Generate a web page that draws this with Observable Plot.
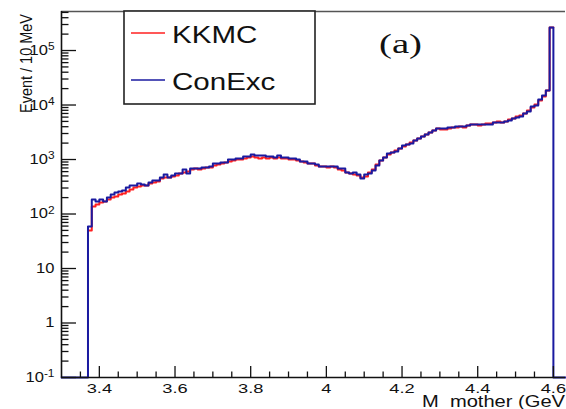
<!DOCTYPE html>
<html>
<head>
<meta charset="utf-8">
<script src="https://cdn.jsdelivr.net/npm/d3@7"></script>
<script src="https://cdn.jsdelivr.net/npm/@observablehq/plot@0.6"></script>
<style>
  html, body { margin: 0; padding: 0; background: #fff; }
  #wrap { position: relative; width: 566px; height: 409px; overflow: hidden; background: #fff; }
</style>
</head>
<body>
<div id="wrap"></div>
<script>
// ---------------- data ----------------
// 10 MeV bins, lower edge of first bin = 3.37 GeV
const binStart = 3.37;
const binWidth = 0.01;

// ConExc (blue histogram), events per 10 MeV bin
const conexc = [
  59, 185, 170, 185, 170, 201, 228, 248, 259, 270,
  306, 333, 333, 363, 348, 333, 378, 412, 412, 467,
  531, 467, 509, 554, 554, 655, 554, 684, 684, 684,
  713, 713, 744, 845, 845, 881, 881, 1000, 1000, 1043,
  1043, 1135, 1135, 1235, 1184, 1184, 1184, 1135, 1135, 1088,
  1184, 1088, 1088, 1043, 1043, 1000, 919, 919, 845, 845,
  810, 744, 744, 744, 744, 744, 684, 684, 577, 554,
  577, 531, 448, 531, 554, 628, 776, 959, 1088, 1288,
  1344, 1402, 1591, 1807, 1884, 1966, 2232, 2428, 2642, 2875,
  3129, 3405, 3705, 3705, 3705, 3865, 3865, 4031, 4031, 4031,
  4205, 4387, 4387, 4387, 4387, 4387, 4387, 4775, 4775, 4775,
  4980, 5195, 5653, 5897, 6152, 6983, 7598, 9386, 9790, 12620,
  14940, 18450, 264000
];

// KKMC (red), events per 10 MeV bin
const kkmc = [
  50, 137, 149, 163, 170, 185, 201, 209, 228, 238,
  259, 282, 306, 320, 333, 333, 363, 378, 395, 448,
  467, 467, 488, 509, 554, 577, 602, 655, 684, 655,
  684, 713, 713, 776, 810, 845, 881, 919, 959, 1000,
  1000, 1043, 1088, 1135, 1088, 1043, 1088, 1043, 1088, 1043,
  1088, 1043, 1043, 1000, 1000, 959, 919, 881, 845, 845,
  776, 744, 744, 713, 744, 713, 655, 628, 577, 554,
  531, 509, 467, 488, 577, 655, 810, 959, 1088, 1235,
  1344, 1462, 1591, 1732, 1884, 2050, 2232, 2428, 2642, 2875,
  3129, 3405, 3705, 3552, 3552, 3705, 3865, 3865, 4031, 3865,
  4205, 4387, 4387, 4205, 4387, 4577, 4577, 4775, 4980, 4775,
  4980, 5420, 5653, 6152, 6416, 6983, 7925, 8999, 10210, 12090,
  14320, 18450, 264000
];

const seriesNames = ["KKMC", "ConExc"];
const seriesColors = ["#ff2020", "#1a1aa0"];

const xMajorTicks = [3.4, 3.6, 3.8, 4.0, 4.2, 4.4, 4.6];
const xTickLabels = ["3.4", "3.6", "3.8", "4", "4.2", "4.4", "4.6"];
const yMajorTicks = [0.1, 1, 10, 100, 1000, 10000, 100000];
const yTickLabels = ["10^-1", "1", "10", "10^2", "10^3", "10^4", "10^5"];

const xTitle = "M  mother (GeV";
const yTitle = "Event / 10 MeV";
const panelLabel = "(a)";

const xDomain = [3.3, 4.632];
const yDomain = [0.1, 5.2e5];

// ---------------- derived ----------------
const xMinorTicks = d3.range(67, 93)
  .map(k => +(k * 0.05).toFixed(2))
  .filter(v => v > xDomain[0] && v < xDomain[1] && !xMajorTicks.some(t => Math.abs(t - v) < 1e-9));
const yMinorTicks = [];
for (let e = -1; e <= 5; e++) for (let m = 2; m <= 9; m++) {
  const v = m * Math.pow(10, e);
  if (v < yDomain[1]) yMinorTicks.push(v);
}

function stepPoints(vals, dropEnds) {
  const pts = [];
  if (dropEnds) {
    pts.push({x: xDomain[0], y: yDomain[0]});
    pts.push({x: binStart, y: yDomain[0]});
  }
  vals.forEach((v, i) => pts.push({x: +(binStart + i * binWidth).toFixed(3), y: v}));
  const end = +(binStart + vals.length * binWidth).toFixed(3);
  pts.push({x: end, y: vals[vals.length - 1]});
  if (dropEnds) {
    pts.push({x: end, y: yDomain[0]});
    pts.push({x: xDomain[1], y: yDomain[0]});
  }
  return pts;
}
const redPts = stepPoints(kkmc, false);
const bluePts = stepPoints(conexc, true);

const W = 566, H = 409;
const mL = 61, mR = 1, mT = 11, mB = 32;
const plotW = W - mL - mR, plotH = H - mT - mB;
const FONT = "'Liberation Sans', Arial, sans-serif";

const chart = Plot.plot({
  width: W, height: H,
  marginLeft: mL, marginRight: mR, marginTop: mT, marginBottom: mB,
  style: {background: "white", fontFamily: FONT},
  x: {domain: xDomain},
  y: {type: "log", domain: yDomain},
  marks: [
    Plot.line(redPts, {x: "x", y: "y", curve: "step-after", stroke: seriesColors[0], strokeWidth: 2}),
    Plot.line(bluePts, {x: "x", y: "y", curve: "step-after", stroke: seriesColors[1], strokeWidth: 2}),
    Plot.ruleY([yDomain[1]], {stroke: "#555", strokeWidth: 1.6}),
    Plot.ruleX([xDomain[0]], {stroke: "#111", strokeWidth: 1.6}),
    Plot.ruleY([yDomain[0]], {stroke: "#111", strokeWidth: 1.6}),
    Plot.ruleX(xMajorTicks, {insetTop: plotH - 11, stroke: "#111", strokeWidth: 1.3}),
    Plot.ruleX(xMinorTicks, {insetTop: plotH - 5.5, stroke: "#111", strokeWidth: 1.3}),
    Plot.ruleY(yMajorTicks, {insetRight: plotW - 15, stroke: "#111", strokeWidth: 1.3}),
    Plot.ruleY(yMinorTicks, {insetRight: plotW - 7.5, stroke: "#111", strokeWidth: 1.3}),
    Plot.axisX({ticks: xMajorTicks, tickSize: 0, tickPadding: 6, label: null,
      tickFormat: d => xTickLabels[xMajorTicks.indexOf(d)]}),
    Plot.axisY({ticks: yMajorTicks, tickSize: 0, tickPadding: 7, label: null,
      tickFormat: d => yTickLabels[yMajorTicks.indexOf(d)]})
  ]
});

document.getElementById("wrap").appendChild(chart);
const svg = d3.select(chart);

function stretch(sel, factor) {
  sel.each(function () {
    const w = this.getComputedTextLength();
    this.setAttribute("textLength", (w * factor).toFixed(1));
    this.setAttribute("lengthAdjust", "spacingAndGlyphs");
  });
}

// x tick labels
const xLab = svg.selectAll('g[aria-label="x-axis tick label"] text');
xLab.attr("font-size", 13.5).style("font-family", FONT).attr("fill", "#111");
stretch(xLab, 1.35);

// y tick labels with superscripts
const yLab = svg.selectAll('g[aria-label="y-axis tick label"] text');
yLab.attr("font-size", 14).style("font-family", FONT).attr("fill", "#111");
yLab.each(function () {
  const m = this.textContent.match(/^10\^(.+)$/);
  if (m) {
    this.textContent = "10";
    d3.select(this).append("tspan").attr("dy", "-0.45em").attr("font-size", "0.72em").text(m[1]);
  }
});
stretch(yLab, 1.18);

// axis titles
svg.append("text")
  .attr("x", 422).attr("y", 406.5)
  .attr("text-anchor", "start")
  .attr("font-size", 16)
  .style("font-family", FONT)
  .style("white-space", "pre")
  .attr("fill", "#111")
  .attr("textLength", 143).attr("lengthAdjust", "spacingAndGlyphs")
  .text(xTitle);

svg.append("text")
  .attr("transform", "translate(32,14) rotate(-90)")
  .attr("text-anchor", "end")
  .attr("font-size", 17)
  .style("font-family", FONT)
  .attr("fill", "#111")
  .attr("textLength", 99).attr("lengthAdjust", "spacingAndGlyphs")
  .text(yTitle);

// legend
const lg = svg.append("g");
lg.append("rect").attr("x", 124).attr("y", 11).attr("width", 191).attr("height", 93)
  .attr("fill", "white").attr("stroke", "#222").attr("stroke-width", 1.6);
const legendRows = [33, 80];
seriesNames.forEach((name, i) => {
  lg.append("line").attr("x1", 131).attr("x2", 165).attr("y1", legendRows[i]).attr("y2", legendRows[i])
    .attr("stroke", seriesColors[i]).attr("stroke-width", 1.6);
  const t = lg.append("text").attr("x", 172).attr("y", legendRows[i] + 10)
    .attr("text-anchor", "start")
    .attr("font-size", 24)
    .style("font-family", FONT)
    .attr("fill", "#111")
    .text(name);
  stretch(t, 1.23);
});

// panel label
svg.append("text")
  .attr("x", 379).attr("y", 53)
  .attr("text-anchor", "start")
  .attr("font-size", 27)
  .style("font-family", "'Liberation Serif', 'Times New Roman', serif")
  .attr("fill", "#111")
  .attr("textLength", 43).attr("lengthAdjust", "spacingAndGlyphs")
  .text(panelLabel);
</script>
</body>
</html>
